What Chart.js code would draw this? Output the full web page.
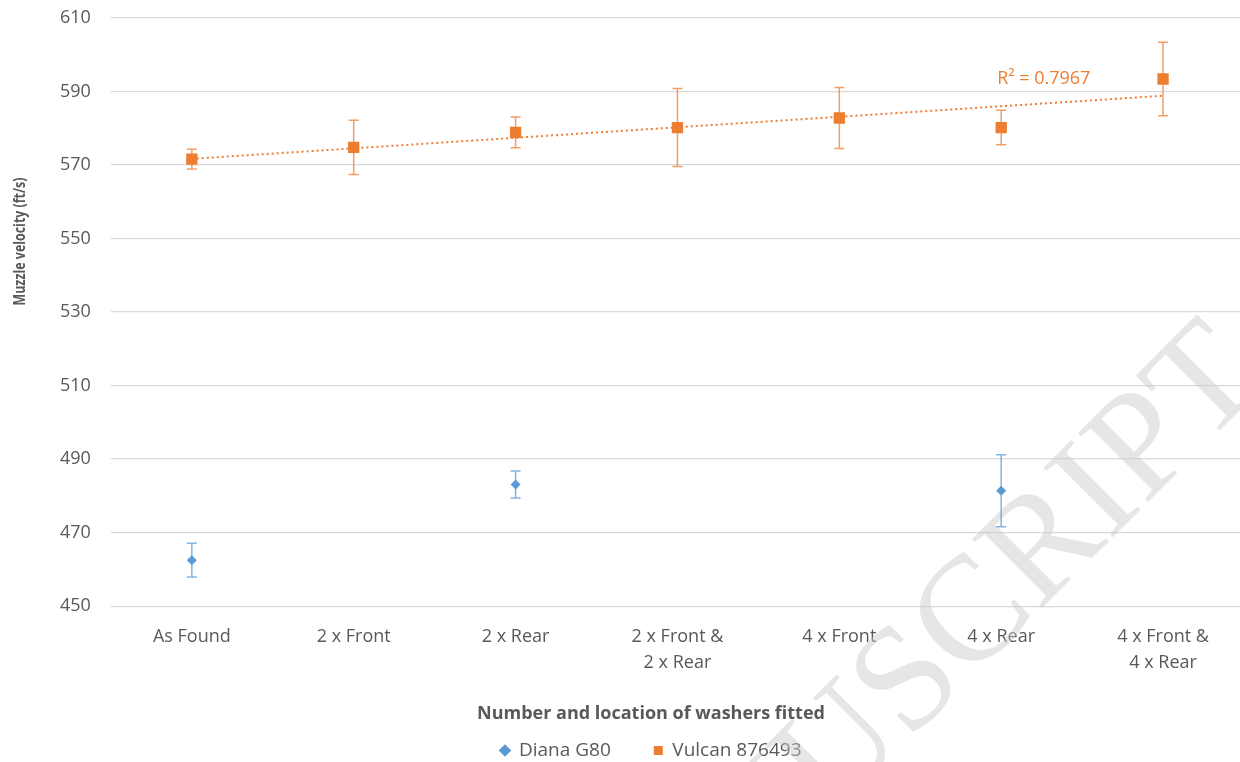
<!DOCTYPE html>
<html>
<head>
<meta charset="utf-8">
<script src="https://cdn.jsdelivr.net/npm/chart.js@4.4.0/dist/chart.umd.min.js"></script>
<style>
  html, body { margin: 0; padding: 0; background: #fff; overflow: hidden; }
  #wrap { width: 1244px; height: 762px; }
</style>
</head>
<body>
<div id="wrap"><canvas id="chart"></canvas></div>
<script>
// Данные графика
const categories = [
    'As Found', '2 x Front', '2 x Rear',
    ['2 x Front &', '2 x Rear'], '4 x Front', '4 x Rear',
    ['4 x Front &', '4 x Rear']
];
const dianaValues = [462.5, null, 483.1, null, null, 481.4, null];
const dianaErrors = [4.6, null, 3.7, null, null, 9.8, null];
const vulcanValues = [571.6, 574.8, 578.9, 580.2, 582.8, 580.2, 593.4];
const vulcanErrors = [2.7, 7.4, 4.2, 10.6, 8.3, 4.7, 10.0];
const yTickValues = [450, 470, 490, 510, 530, 550, 570, 590, 610];
const yTitle = 'Muzzle velocity (ft/s)';
const xTitle = 'Number and location of washers fitted';
const r2Label = 'R² = 0.7967';

const ORANGE = '#ED7D31';
const BLUE = '#5B9BD5';
const TEXT = '#595959';

// Линейный тренд по данным Vulcan (как в Excel)
function linearTrend(values) {
    const n = values.length;
    let sx = 0, sy = 0, sxy = 0, sxx = 0;
    values.forEach((v, i) => { sx += i; sy += v; sxy += i * v; sxx += i * i; });
    const b = (n * sxy - sx * sy) / (n * sxx - sx * sx);
    const a = (sy - b * sx) / n;
    return values.map((v, i) => a + b * i);
}

// Водяной знак
const watermarkPlugin = {
    id: 'watermark',
    beforeDatasetsDraw(chart) {
        const ctx = chart.ctx;
        ctx.save();
        ctx.translate(1268, 382);
        ctx.rotate(-45 * Math.PI / 180);
        ctx.font = '150px "Liberation Serif"';
        ctx.fillStyle = 'rgba(200,200,200,0.45)';
        ctx.textAlign = 'right';
        ctx.textBaseline = 'alphabetic';
        ctx.fillText('MANUSCRIPT', 0, 0);
        ctx.restore();
    }
};

// Планки погрешностей, подпись R² и заголовки осей
const errorBarsPlugin = {
    id: 'errorBars',
    afterDatasetsDraw(chart) {
        const ctx = chart.ctx;
        const xs = chart.scales.x;
        const ys = chart.scales.y;
        const area = chart.chartArea;
        const sets = [
            { values: dianaValues, errors: dianaErrors, color: BLUE },
            { values: vulcanValues, errors: vulcanErrors, color: ORANGE }
        ];
        ctx.save();
        sets.forEach(s => {
            ctx.strokeStyle = s.color;
            ctx.globalAlpha = 0.75;
            ctx.lineWidth = 1.5;
            s.values.forEach((v, i) => {
                if (v == null) return;
                const x = xs.getPixelForValue(i);
                const yTop = ys.getPixelForValue(v + s.errors[i]);
                const yBot = ys.getPixelForValue(v - s.errors[i]);
                ctx.beginPath();
                ctx.moveTo(x, yTop); ctx.lineTo(x, yBot);
                ctx.moveTo(x - 5, yTop); ctx.lineTo(x + 5, yTop);
                ctx.moveTo(x - 5, yBot); ctx.lineTo(x + 5, yBot);
                ctx.stroke();
            });
        });
        ctx.globalAlpha = 1;

        ctx.fillStyle = ORANGE;
        ctx.font = '18px "Open Sans"';
        ctx.textAlign = 'left';
        ctx.textBaseline = 'middle';
        ctx.fillText(r2Label, xs.getPixelForValue(5) - 4, ys.getPixelForValue(593.5));

        // заголовок оси X — по центру легенды
        ctx.fillStyle = TEXT;
        ctx.font = 'bold 18px "Open Sans"';
        ctx.textAlign = 'center';
        const lg = chart.legend;
        ctx.fillText(xTitle, (lg.left + lg.right) / 2, xs.bottom + 16);

        // заголовок оси Y (узкий шрифт)
        ctx.translate(20, area.top + (area.bottom - area.top) * 0.38);
        ctx.rotate(-Math.PI / 2);
        ctx.font = 'bold 16px "Open Sans"';
        const k = 128 / ctx.measureText(yTitle).width;
        ctx.scale(k, 1);
        ctx.fillText(yTitle, 0, 0);
        ctx.restore();
    }
};

function createChart() {
    const ctx = document.getElementById('chart').getContext('2d');
    new Chart(ctx, {
        type: 'line',
        data: {
            labels: categories,
            datasets: [
                {
                    label: 'Diana G80',
                    data: dianaValues,
                    showLine: false,
                    pointStyle: 'rectRot',
                    pointRadius: 5,
                    backgroundColor: BLUE,
                    borderColor: BLUE,
                    borderWidth: 0
                },
                {
                    label: 'Vulcan 876493',
                    data: vulcanValues,
                    showLine: false,
                    pointStyle: 'rect',
                    pointRadius: 8,
                    backgroundColor: ORANGE,
                    borderColor: ORANGE,
                    borderWidth: 0
                },
                {
                    label: 'Trend',
                    data: linearTrend(vulcanValues),
                    borderColor: ORANGE,
                    borderWidth: 2,
                    borderDash: [2, 3],
                    pointRadius: 0,
                    fill: false
                }
            ]
        },
        options: {
            responsive: true,
            maintainAspectRatio: false,
            animation: false,
            layout: { autoPadding: false, padding: { top: 18, left: 58, right: 0, bottom: -8 } },
            plugins: {
                legend: {
                    position: 'bottom',
                    labels: {
                        usePointStyle: true,
                        boxWidth: 9,
                        boxHeight: 9,
                        padding: 43,
                        color: TEXT,
                        font: { family: 'Open Sans', size: 19 },
                        filter: item => item.datasetIndex < 2
                    }
                },
                tooltip: { enabled: false }
            },
            scales: {
                x: {
                    offset: true,
                    grid: { display: false },
                    border: { display: false },
                    ticks: {
                        color: TEXT,
                        font: { family: 'Open Sans', size: 18, lineHeight: 1.44 },
                        padding: 10,
                        maxRotation: 0,
                        autoSkip: false
                    },
                    // место под заголовок оси, который рисует плагин
                    afterFit: axis => { axis.height += 12; }
                },
                y: {
                    min: 450,
                    max: 610,
                    afterBuildTicks: axis => {
                        axis.ticks = yTickValues.map(v => ({ value: v }));
                    },
                    grid: { color: '#D9D9D9', lineWidth: 1.3, tickLength: 18, tickColor: 'rgba(0,0,0,0)' },
                    border: { display: false },
                    ticks: {
                        color: TEXT,
                        font: { family: 'Open Sans', size: 18 },
                        padding: 2
                    }
                }
            }
        },
        plugins: [watermarkPlugin, errorBarsPlugin]
    });
}

document.addEventListener('DOMContentLoaded', createChart);
</script>
</body>
</html>
